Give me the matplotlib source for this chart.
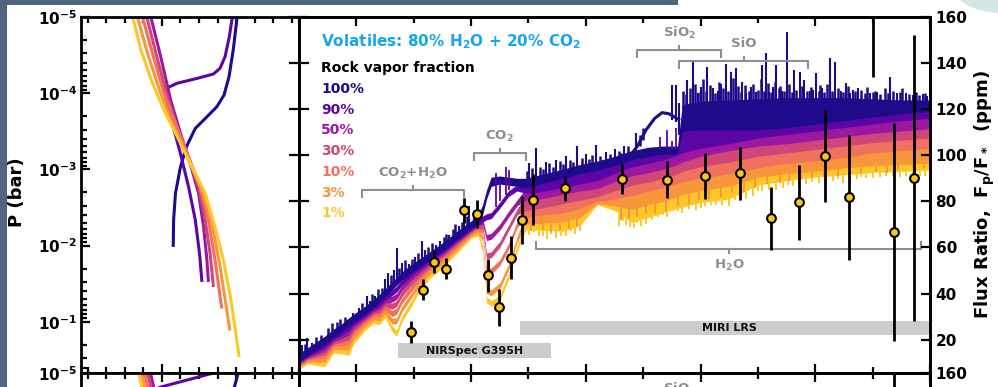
import numpy as np
import matplotlib
matplotlib.use("Agg")
import matplotlib.pyplot as plt
from matplotlib.patches import Rectangle, Ellipse
from matplotlib.ticker import (MultipleLocator, LogLocator, FixedLocator,
                               NullFormatter, FuncFormatter)

# ----------------------------------------------------------------------------
# Model labels and colours
# ----------------------------------------------------------------------------
fractions = ["100%", "90%", "50%", "30%", "10%", "3%", "1%"]
colors = ["#1d0b8c", "#5d04a7", "#9d18a0", "#cf4778", "#ef715e", "#f8963c", "#fdc827"]

# ----------------------------------------------------------------------------
# Emission spectra (ppm): lower / upper edge of each model's line forest
# ----------------------------------------------------------------------------
wl = [1.0, 1.15, 1.3, 1.45, 1.6, 1.75, 1.87, 1.95, 2.15, 2.3,
      2.4, 2.5, 2.62, 2.7, 2.8, 2.95, 3.1, 3.3, 3.5, 3.75,
      4.0, 4.12, 4.2, 4.27, 4.35, 4.5, 4.65, 4.8, 4.95, 5.2,
      5.6, 5.9, 6.2, 6.5, 6.8, 7.1, 7.35, 7.6, 7.68, 8.0,
      8.5, 9.0, 9.5, 10.0, 10.5, 11.0, 11.5, 12.0]

lo_100 = [10.5, 13.0, 15.5, 18.0, 21.0, 23.5, 26.0, 27.5, 31.0, 34.0,
          36.0, 38.5, 41.5, 43.5, 46.0, 49.0, 51.5, 55.0, 58.5, 63.5,
          68.0, 70.5, 74.0, 81.0, 86.5, 87.5, 87.0, 86.5, 86.0, 87.5,
          90.0, 92.0, 93.5, 95.5, 98.0, 99.5, 100.5, 100.5, 110.5, 111.0,
          111.0, 111.0, 112.0, 113.5, 115.0, 116.5, 118.0, 119.0]
hi_100 = [14.0, 16.5, 19.0, 21.5, 24.5, 27.0, 29.5, 31.0, 34.5, 37.5,
          39.5, 42.0, 45.0, 47.0, 49.5, 52.5, 55.0, 58.5, 62.0, 67.0,
          71.5, 74.0, 78.5, 85.0, 90.5, 91.0, 90.5, 90.0, 90.0, 91.5,
          94.0, 96.0, 97.5, 99.5, 102.0, 103.5, 104.0, 104.0, 122.0, 123.5,
          124.0, 124.5, 125.0, 125.0, 125.0, 124.5, 124.0, 124.0]

lo_90 = [10.0, 12.5, 14.5, 16.5, 20.0, 22.0, 24.0, 26.5, 30.0, 33.0,
         34.5, 37.2, 39.0, 40.5, 43.8, 47.4, 50.5, 54.0, 57.6, 62.7,
         67.5, 70.0, 71.0, 72.0, 72.5, 77.0, 82.0, 84.5, 83.5, 84.0,
         86.0, 87.5, 89.0, 92.0, 95.0, 96.5, 98.0, 100.0, 101.0, 103.0,
         105.0, 107.5, 109.0, 110.5, 112.0, 113.5, 115.0, 116.0]
hi_90 = [12.6, 15.1, 17.1, 19.1, 22.6, 24.6, 26.6, 29.1, 32.6, 35.6,
         37.1, 39.8, 41.6, 43.1, 46.4, 50.0, 53.1, 56.6, 60.2, 65.3,
         70.1, 72.6, 73.6, 74.6, 75.1, 79.6, 84.6, 87.1, 88.0, 89.5,
         92.0, 94.0, 95.5, 97.5, 100.0, 101.5, 102.5, 102.5, 112.5, 113.0,
         113.0, 113.0, 114.0, 115.5, 117.0, 118.5, 120.0, 121.0]

lo_50 = [9.5, 12.0, 13.5, 15.0, 19.0, 20.5, 22.0, 25.0, 29.0, 32.0,
         33.0, 35.9, 36.2, 37.4, 41.4, 45.5, 49.0, 53.0, 56.7, 61.9,
         67.0, 69.4, 70.0, 63.0, 63.5, 67.5, 73.0, 78.0, 80.5, 81.0,
         83.0, 84.5, 85.5, 88.5, 91.0, 92.5, 94.0, 96.0, 97.0, 99.5,
         102.0, 104.0, 105.0, 106.5, 108.0, 109.5, 110.5, 111.5]
hi_50 = [12.1, 14.6, 16.1, 17.6, 21.6, 23.1, 24.6, 27.6, 31.6, 34.6,
         35.6, 38.5, 38.8, 40.0, 44.0, 48.1, 51.6, 55.6, 59.3, 64.5,
         69.6, 72.0, 72.6, 65.6, 66.1, 70.1, 75.6, 80.6, 85.5, 86.0,
         88.0, 89.5, 91.0, 94.0, 97.0, 98.5, 100.0, 102.0, 103.0, 105.0,
         107.0, 109.5, 111.0, 112.5, 114.0, 115.5, 117.0, 118.0]

lo_30 = [9.0, 11.5, 12.5, 13.5, 18.0, 19.0, 20.0, 23.5, 28.0, 31.0,
         31.5, 34.5, 33.2, 34.3, 38.8, 43.2, 47.4, 51.9, 55.6, 61.0,
         66.4, 68.6, 68.0, 55.0, 55.5, 60.0, 67.0, 74.0, 76.0, 77.0,
         79.0, 80.5, 82.0, 84.5, 87.0, 88.5, 90.0, 92.0, 93.0, 95.0,
         97.0, 99.5, 101.0, 102.5, 104.0, 105.5, 106.5, 107.5]
hi_30 = [11.6, 14.1, 15.1, 16.1, 20.6, 21.6, 22.6, 26.1, 30.6, 33.6,
         34.1, 37.1, 35.8, 36.9, 41.4, 45.8, 50.0, 54.5, 58.2, 63.6,
         69.0, 71.2, 70.6, 57.6, 58.1, 62.6, 69.6, 76.6, 82.5, 83.0,
         85.0, 86.5, 87.5, 90.5, 93.0, 94.5, 96.0, 98.0, 99.0, 101.5,
         104.0, 106.0, 107.0, 108.5, 110.0, 111.5, 112.5, 113.5]

lo_10 = [8.5, 11.0, 11.5, 12.0, 17.0, 17.5, 18.0, 22.0, 27.0, 30.0,
         30.0, 33.0, 30.0, 31.0, 35.8, 40.6, 45.6, 50.6, 54.4, 60.0,
         65.7, 67.6, 66.0, 48.0, 48.5, 52.0, 59.0, 68.5, 73.0, 74.0,
         75.0, 77.0, 80.0, 81.0, 82.5, 84.5, 86.0, 88.0, 88.5, 90.0,
         92.0, 94.5, 96.5, 97.5, 99.0, 101.0, 102.0, 103.0]
hi_10 = [11.1, 13.6, 14.1, 14.6, 19.6, 20.1, 20.6, 24.6, 29.6, 32.6,
         32.6, 35.6, 32.6, 33.6, 38.4, 43.2, 48.2, 53.2, 57.0, 62.6,
         68.3, 70.2, 68.6, 50.6, 51.1, 54.6, 61.6, 71.1, 78.0, 79.0,
         81.0, 82.5, 84.0, 86.5, 89.0, 90.5, 92.0, 94.0, 95.0, 97.0,
         99.0, 101.5, 103.0, 104.5, 106.0, 107.5, 108.5, 109.5]

lo_3 = [7.8, 10.3, 10.2, 10.2, 15.6, 15.6, 15.6, 20.0, 25.5, 28.6,
        28.2, 31.2, 26.8, 26.8, 32.2, 37.5, 43.4, 49.0, 52.8, 58.8,
        64.9, 66.4, 62.5, 40.0, 39.0, 42.0, 50.0, 62.0, 70.0, 70.5,
        71.0, 73.0, 79.0, 78.0, 76.5, 78.5, 80.0, 82.0, 83.0, 84.5,
        86.5, 90.5, 92.0, 93.0, 94.5, 95.5, 96.0, 96.5]
hi_3 = [10.4, 12.9, 12.8, 12.8, 18.2, 18.2, 18.2, 22.6, 28.1, 31.2,
        30.8, 33.8, 29.4, 29.4, 34.8, 40.1, 46.0, 51.6, 55.4, 61.4,
        67.5, 69.0, 65.1, 42.6, 41.6, 44.6, 52.6, 64.6, 75.0, 76.0,
        77.0, 79.0, 82.0, 83.0, 84.5, 86.5, 88.0, 90.0, 90.5, 92.0,
        94.0, 96.5, 98.5, 99.5, 101.0, 103.0, 104.0, 105.0]

lo_1 = [7.0, 9.5, 8.8, 8.3, 14.2, 13.8, 13.2, 18.0, 24.0, 27.2,
        26.5, 29.5, 23.5, 21.5, 28.0, 34.0, 41.0, 47.0, 51.0, 57.5,
        64.0, 65.0, 58.0, 36.0, 34.5, 36.5, 46.0, 58.0, 67.5, 67.5,
        67.0, 69.5, 78.5, 76.0, 71.0, 73.0, 75.0, 77.0, 77.5, 79.5,
        81.0, 87.0, 89.0, 90.5, 91.5, 92.5, 93.0, 93.5]
hi_1 = [9.6, 12.1, 11.4, 10.9, 16.8, 16.4, 15.8, 20.6, 26.6, 29.8,
        29.1, 32.1, 26.1, 24.1, 30.6, 36.6, 43.6, 49.6, 53.6, 60.1,
        66.6, 67.6, 60.6, 38.6, 37.1, 39.1, 48.6, 60.6, 72.0, 72.5,
        73.0, 75.0, 81.0, 80.0, 78.5, 80.5, 82.0, 84.0, 85.0, 86.5,
        88.5, 92.0, 93.5, 94.5, 96.0, 97.5, 98.5, 99.5]

# second, brighter branch of the 100% model around 7 - 7.6 um
navy_branch_wl = [6.78, 6.9, 7.05, 7.2, 7.33, 7.45, 7.62]
navy_branch_ppm = [100.0, 104.0, 111.0, 116.0, 118.5, 118.0, 115.5]

# strongest individual emission lines of the 100% model
navy_spike_wl = [1.02, 1.06, 1.14, 1.22, 1.95, 2.05, 2.18, 2.24, 2.33, 2.5,
                 2.56, 2.65, 2.71, 2.8, 2.91, 3.02, 3.14, 3.2, 3.38, 3.45,
                 3.61, 3.79, 3.88, 3.97, 4.05,
                 5.01, 5.13, 5.3, 5.48, 5.65, 5.85, 6.0, 6.17, 6.35, 6.5, 6.67, 6.87,
                 7.51, 7.57, 7.63, 7.77, 7.86, 7.95, 8.0, 8.12, 8.21, 8.3,
                 8.35, 8.44, 8.53, 8.62, 8.73, 8.8, 8.88, 8.97, 9.08, 9.14,
                 9.2, 9.26, 9.32, 9.42, 9.51, 9.63, 9.73, 9.81, 9.9, 9.96,
                 10.02, 10.12, 10.25, 10.35, 10.45, 10.54, 10.6, 10.65, 10.74, 10.95,
                 11.08, 11.3, 11.42, 11.59, 11.7, 11.87, 11.95]
navy_spike_top = [20.1, 17.5, 20.8, 18.5, 31.6, 33.5, 38.9, 36.7, 39.0, 46.1,
                  49.0, 50.0, 59.8, 53.3, 52.6, 56.0, 62.6, 59.0, 61.2, 63.0,
                  65.5, 69.2, 72.0, 78.0, 76.0,
                  96.6, 103.1, 97.0, 98.0, 99.5, 103.8, 100.5, 104.5, 101.6, 102.5, 103.8, 109.6,
                  130.5, 130.5, 122.5, 132.6, 140.6, 127.0, 129.8, 138.4, 129.0, 128.0,
                  131.0, 139.8, 136.3, 137.7, 131.9, 127.0, 129.8, 127.5, 139.1, 144.2,
                  127.5, 129.8, 139.1, 128.0, 153.5, 137.0, 136.3, 132.7, 128.0, 128.3,
                  135.5, 129.0, 142.0, 140.6, 128.0, 131.2, 127.0, 128.5, 129.1, 127.0,
                  127.5, 134.1, 127.0, 126.9, 126.0, 126.5, 125.8]

# weaker lines forming the ragged top of the 100% model
navy_fringe_wl = [1.1, 1.3, 1.38, 1.5, 1.57, 1.66, 1.72, 1.8, 2.1, 2.28,
                  2.38, 2.44, 2.6, 2.75, 2.85, 2.97, 3.07, 3.25, 3.31, 3.52,
                  3.57, 3.68, 3.72, 3.84, 3.93, 4.1,
                  4.98, 5.06, 5.2, 5.25, 5.36, 5.42, 5.55, 5.6, 5.72, 5.78,
                  5.93, 6.05, 6.1, 6.24, 6.3, 6.42, 6.57, 6.62, 6.74, 6.94, 7.0,
                  7.7, 7.74, 7.81, 7.9, 7.99, 8.05, 8.09, 8.16, 8.25, 8.33,
                  8.39, 8.48, 8.57, 8.66, 8.7, 8.77, 8.84, 8.92, 9.01, 9.05,
                  9.11, 9.17, 9.23, 9.29, 9.36, 9.39, 9.46, 9.55, 9.59, 9.67,
                  9.77, 9.85, 9.93, 10.06, 10.09, 10.16, 10.2, 10.29, 10.4, 10.49,
                  10.57, 10.69, 10.79, 10.87, 10.91, 11.0, 11.04, 11.13, 11.22, 11.26,
                  11.36, 11.47, 11.52, 11.64, 11.75, 11.8, 11.91]
navy_fringe_top = [18.0, 21.0, 22.0, 25.0, 27.0, 27.5, 29.0, 30.0, 36.0, 40.0,
                   42.0, 42.5, 48.0, 51.0, 54.5, 55.0, 57.5, 60.0, 62.0, 64.5,
                   66.0, 68.0, 70.0, 71.0, 73.5, 75.5,
                   93.0, 94.5, 95.0, 94.0, 96.5, 95.0, 97.5, 96.0, 98.0, 97.0,
                   99.0, 98.5, 100.0, 99.5, 98.0, 100.5, 102.0, 101.0, 104.0, 109.0, 112.0,
                   128.0, 126.5, 129.0, 131.0, 127.5, 133.0, 128.0, 130.5, 127.0, 132.0,
                   129.0, 128.0, 133.5, 130.0, 127.5, 130.5, 128.0, 131.0, 128.5, 133.0,
                   128.0, 131.5, 127.5, 132.0, 129.0, 130.0, 128.0, 131.0, 127.5, 128.5,
                   130.0, 128.0, 129.5, 128.0, 130.5, 127.5, 131.0, 128.0, 129.0, 127.5,
                   130.0, 128.0, 128.5, 127.0, 129.5, 127.5, 128.0, 126.5, 129.0, 127.0,
                   128.0, 127.5, 129.0, 126.5, 127.5, 126.0, 127.0]

# isolated lines of the 90% model
purple_spike_wl = [4.43, 4.51, 4.6, 4.66, 7.3, 7.42, 7.5, 7.58]
purple_spike_top = [92.2, 89.3, 95.1, 93.7, 108.0, 111.0, 106.0, 112.0]

# deepest absorption lines of the 3% model
orange_dip_wl = [5.05, 5.25, 5.4, 5.55, 5.7, 5.85, 6.62, 6.75, 6.9, 7.05,
                 7.2, 7.4, 7.6, 7.8, 7.98, 8.15, 8.35, 8.55, 8.75, 8.95,
                 9.15, 9.38, 9.55, 9.75, 9.95, 10.15, 10.4, 10.6, 10.8, 11.05,
                 11.25, 11.45, 11.7, 11.9]
orange_dip_bottom = [67.0, 67.5, 66.5, 67.5, 68.0, 69.0, 72.0, 72.5, 73.0, 74.5,
                     75.0, 76.0, 78.0, 79.0, 80.5, 81.0, 82.0, 83.5, 84.0, 86.0,
                     87.5, 88.0, 89.0, 89.5, 90.0, 90.5, 91.0, 92.0, 92.5, 93.0,
                     92.5, 93.5, 94.0, 94.0]

# deepest absorption lines of the 1% model
yellow_dip_wl = [5.01, 5.18, 5.32, 5.48, 5.65, 5.82, 6.58, 6.7, 6.84, 6.96,
                 7.16, 7.34, 7.51, 7.68, 7.92, 8.07, 8.27, 8.5, 8.68, 8.91,
                 9.08, 9.32, 9.43, 9.61, 9.84, 10.07, 10.31, 10.48, 10.72, 10.89,
                 11.12, 11.35, 11.59, 11.82,
                 5.1, 5.25, 5.4, 5.57, 5.74, 5.9, 6.64, 6.77, 6.9, 7.05,
                 7.25, 7.42, 7.6, 7.8, 8.0, 8.18, 8.38, 8.6, 8.8, 9.0,
                 9.2, 9.52, 9.72, 9.95, 10.18, 10.4, 10.6, 10.8, 11.0, 11.24,
                 11.47, 11.7, 11.92]
yellow_dip_bottom = [65.5, 64.8, 63.5, 64.0, 64.8, 66.0, 69.2, 69.9, 68.4, 69.1,
                     72.0, 74.2, 75.6, 74.9, 76.4, 77.8, 78.5, 77.8, 80.0, 82.1,
                     84.5, 85.0, 86.0, 86.5, 87.5, 88.0, 89.0, 88.0, 89.5, 90.0,
                     90.5, 90.8, 91.0, 90.8,
                     66.5, 65.0, 66.0, 65.0, 67.0, 67.0, 71.5, 69.0, 70.5, 70.0,
                     73.0, 73.0, 76.0, 76.5, 77.0, 78.5, 78.5, 80.5, 81.0, 84.5,
                     85.0, 87.0, 87.0, 88.5, 88.0, 89.5, 89.0, 90.5, 90.0, 91.0,
                     90.5, 91.5, 91.0]

# ----------------------------------------------------------------------------
# Simulated observations
# ----------------------------------------------------------------------------
obs_wl = [2.96, 3.16, 3.36, 3.56, 3.87, 4.11, 4.29, 4.49, 4.69, 4.89, 5.08, 5.63,
          6.63, 7.41, 8.08, 8.69, 9.23, 9.71, 10.17, 10.59, 11.0, 11.37, 11.72]
obs_ppm = [23.2, 41.7, 53.7, 50.8, 76.1, 74.5, 47.9, 34.1, 55.6, 72.0, 80.7, 85.7,
           89.6, 89.3, 90.8, 92.2, 72.7, 79.5, 99.7, 81.7, 190.0, 66.6, 90.0]
obs_err = [4.7, 4.6, 4.7, 4.7, 5.4, 6.0, 7.1, 8.0, 9.2, 10.4, 11.0, 5.4,
           6.5, 8.0, 10.0, 11.5, 13.7, 16.2, 19.8, 27.0, 56.0, 47.3, 62.0]

lower_obs_wl = [11.37]
lower_obs_ppm = [130.0]
lower_obs_err = [45.0]

# ----------------------------------------------------------------------------
# Molecular band markers and instrument coverage
# ----------------------------------------------------------------------------
feat_names = ["CO$_2$+H$_2$O", "CO$_2$", "SiO$_2$", "SiO", "H$_2$O"]
feat_start = [2.09, 4.05, 6.90, 7.63, 5.14]
feat_end = [3.88, 4.95, 8.36, 9.87, 11.85]
feat_level = [85.0, 100.9, 145.6, 141.0, 59.4]
feat_above = [True, True, True, True, False]

inst_names = ["NIRSpec G395H", "MIRI LRS"]
inst_start = [2.73, 4.86]
inst_end = [5.39, 12.3]
inst_low = [12.0, 21.8]
inst_high = [18.4, 28.2]
inst_text_wl = [4.06, 8.5]

# ----------------------------------------------------------------------------
# Pressure-temperature profiles (T in K, P in bar)
# ----------------------------------------------------------------------------
pt_T_100 = [2061, 2063, 2073, 2100, 2132, 2180, 2243, 2296, 2335, 2362, 2385, 2406, 2412]
pt_P_100 = [1.04e-2, 4.6e-3, 2.07e-3, 9.3e-4, 5.06e-4, 2.9e-4, 2.04e-4, 1.51e-4,
            1.06e-4, 6.1e-5, 2.7e-5, 1.0e-5, 8e-6]
pt_T_90 = [2216, 2203, 2180, 2144, 2100, 2056, 2020, 2024, 2082, 2189, 2278, 2314,
           2341, 2364, 2380, 2384]
pt_P_90 = [3.0e-2, 1.27e-2, 4.6e-3, 1.7e-3, 6.2e-4, 2.5e-4, 1.11e-4, 8.6e-5, 7.4e-5,
           6.4e-5, 5.6e-5, 4.7e-5, 3.3e-5, 1.8e-5, 1.0e-5, 8e-6]
pt_T_50 = [1934, 1940, 1993, 2047, 2100, 2153, 2198, 2225, 2243, 2251]
pt_P_50 = [8e-6, 1.0e-5, 3.3e-5, 1.23e-4, 3.37e-4, 8.4e-4, 2.07e-3, 5.7e-3, 1.56e-2, 3.0e-2]
pt_T_30 = [1912, 1918, 1972, 2029, 2082, 2144, 2198, 2234, 2260, 2278]
pt_P_30 = [8e-6, 1.0e-5, 3.3e-5, 1.11e-4, 2.77e-4, 6.9e-4, 1.7e-3, 4.6e-3, 1.27e-2, 3.5e-2]
pt_T_10 = [1889, 1895, 1949, 2011, 2073, 2144, 2207, 2251, 2287, 2323]
pt_P_10 = [8e-6, 1.0e-5, 3.0e-5, 1.0e-4, 2.5e-4, 6.9e-4, 1.7e-3, 4.6e-3, 1.56e-2, 6.7e-2]
pt_T_3 = [1862, 1868, 1922, 1993, 2064, 2144, 2216, 2270, 2314, 2367]
pt_P_3 = [8e-6, 1.0e-5, 3.0e-5, 1.0e-4, 2.77e-4, 7.6e-4, 1.87e-3, 5.1e-3, 1.91e-2, 0.13]
pt_T_1 = [1836, 1842, 1886, 1949, 2011, 2082, 2163, 2234, 2287, 2332, 2373, 2417]
pt_P_1 = [8e-6, 1.0e-5, 2.7e-5, 7.4e-5, 1.67e-4, 3.7e-4, 9.3e-4, 2.07e-3, 5.7e-3,
          1.56e-2, 5.2e-2, 0.29]

# next scenario (profiles near the top of its panel)
lower_pt_T = [[2415, 2412, 2391, 2378], [2290, 2278, 1993, 1870],
              [1937, 1939, 1955, 1964], [1921, 1923, 1939, 1948],
              [1905, 1907, 1923, 1932], [1889, 1891, 1907, 1916],
              [1873, 1875, 1891, 1900]]
lower_pt_P = [[8e-6, 1e-5, 1.53e-5, 2.2e-5], [8e-6, 1e-5, 1.53e-5, 2.0e-5],
              [8e-6, 1e-5, 1.53e-5, 2.2e-5], [8e-6, 1e-5, 1.53e-5, 2.2e-5],
              [8e-6, 1e-5, 1.53e-5, 2.2e-5], [8e-6, 1e-5, 1.53e-5, 2.2e-5],
              [8e-6, 1e-5, 1.53e-5, 2.2e-5]]

# ----------------------------------------------------------------------------
# Figure
# ----------------------------------------------------------------------------
plt.rcParams.update({
    "font.family": ["DejaVu Sans"],
    "font.weight": "bold",
    "mathtext.default": "bf",
    "axes.linewidth": 2.0,
    "xtick.major.width": 1.6, "ytick.major.width": 1.6,
    "xtick.minor.width": 1.6, "ytick.minor.width": 1.6,
})

W, H = 998, 387
fig = plt.figure(figsize=(W / 100, H / 100), dpi=100)


def box(x0, y0, x1, y1):
    return [x0 / W, 1 - y1 / H, (x1 - x0) / W, (y1 - y0) / H]


frame = "#51657f"
fig.add_artist(Rectangle((0, 0), 7 / W, 1, transform=fig.transFigure,
                         facecolor=frame, edgecolor="none"))
fig.add_artist(Rectangle((0, 1 - 5 / H), 678 / W, 5 / H, transform=fig.transFigure,
                         facecolor=frame, edgecolor="none"))
fig.add_artist(Ellipse((1012 / W, 1 + 8 / H), 112 / W, 44 / H, transform=fig.transFigure,
                       facecolor="#d3e8e5", edgecolor="none"))

T_LIM = (1563, 2740)
P_LIM = (0.47, 1e-5)
WL_LIM = (1.0, 12.0)
F_LIM = (5.5, 160.0)
GRAY = "#8e8e8e"


def pow_label(v, pos):
    return r"$\mathbf{10^{%d}}$" % int(round(np.log10(v)))


def setup_pt(ax):
    ax.set_yscale("log")
    ax.set_xlim(*T_LIM)
    ax.set_ylim(*P_LIM)
    ax.xaxis.set_major_locator(MultipleLocator(1000))
    ax.xaxis.set_minor_locator(MultipleLocator(100))
    ax.yaxis.set_major_locator(FixedLocator([1e-5, 1e-4, 1e-3, 1e-2, 1e-1]))
    ax.yaxis.set_minor_locator(LogLocator(base=10, subs=np.arange(2, 10)))
    ax.yaxis.set_major_formatter(FuncFormatter(pow_label))
    ax.yaxis.set_minor_formatter(NullFormatter())
    ax.tick_params(which="both", direction="in", top=True, bottom=True,
                   left=True, right=False, labelbottom=False)
    ax.tick_params(which="major", length=6.5)
    ax.tick_params(which="minor", length=4.5)
    ax.tick_params(axis="y", labelsize=11, pad=3)


def setup_spec(ax):
    ax.set_xlim(*WL_LIM)
    ax.set_ylim(*F_LIM)
    ax.xaxis.set_major_locator(MultipleLocator(2))
    ax.xaxis.set_minor_locator(MultipleLocator(1))
    ax.yaxis.set_major_locator(MultipleLocator(20))
    ax.tick_params(axis="x", which="both", direction="in", top=True, bottom=True,
                   labelbottom=False)
    ax.tick_params(axis="x", which="major", length=6.5)
    ax.tick_params(axis="x", which="minor", length=4.5)
    ax.tick_params(axis="y", which="major", direction="inout", length=14,
                   left=True, right=False, labelleft=False)
    axr = ax.twinx()
    axr.set_ylim(*F_LIM)
    axr.yaxis.set_major_locator(MultipleLocator(20))
    axr.tick_params(axis="y", direction="in", length=6.5, labelsize=11, pad=4)
    return axr


def draw_brackets(ax, names, starts, ends, levels, above):
    for name, x0, x1, y, up in zip(names, starts, ends, levels, above):
        s = 1 if up else -1
        xc = 0.5 * (x0 + x1)
        ax.plot([x0, x0, x1, x1], [y - s * 3.4, y, y, y - s * 3.4],
                color=GRAY, lw=1.5, solid_capstyle="butt", zorder=3)
        ax.plot([xc, xc], [y, y + s * 1.8], color=GRAY, lw=1.5, zorder=3)
        ax.text(xc, y + s * 7.3, name, color=GRAY, fontsize=9.5, fontweight="bold",
                ha="center", va="center", zorder=3)


# ---------------- top row ----------------
ax_pt = fig.add_axes(box(81, 17, 299, 373))
ax_sp = fig.add_axes(box(299, 17, 930, 373))
setup_pt(ax_pt)
ax_spr = setup_spec(ax_sp)

pt_T = [pt_T_100, pt_T_90, pt_T_50, pt_T_30, pt_T_10, pt_T_3, pt_T_1]
pt_P = [pt_P_100, pt_P_90, pt_P_50, pt_P_30, pt_P_10, pt_P_3, pt_P_1]
for T, P, c in zip(pt_T, pt_P, colors):
    ax_pt.plot(T, P, color=c, lw=2.2, solid_capstyle="butt")

spec_lo = [lo_100, lo_90, lo_50, lo_30, lo_10, lo_3, lo_1]
spec_hi = [hi_100, hi_90, hi_50, hi_30, hi_10, hi_3, hi_1]
wl_arr = np.array(wl)

# 1% model first so that the higher rock fractions sit on top
ax_sp.vlines(yellow_dip_wl, np.interp(yellow_dip_wl, wl_arr, lo_1), yellow_dip_bottom,
             color=colors[6], lw=1.4, zorder=1.9)
for k in range(len(colors) - 1, -1, -1):
    ax_sp.fill_between(wl_arr, spec_lo[k], spec_hi[k], color=colors[k], lw=0, zorder=2)
    if k == 5:
        ax_sp.vlines(orange_dip_wl, np.interp(orange_dip_wl, wl_arr, lo_3),
                     orange_dip_bottom, color=colors[5], lw=1.4, zorder=2)
ax_sp.vlines(purple_spike_wl, np.interp(purple_spike_wl, wl_arr, hi_90), purple_spike_top,
             color=colors[1], lw=1.3, zorder=2.05)


def navy_base(x):
    x = np.asarray(x)
    base = np.interp(x, wl_arr, hi_100)
    on_branch = (x >= navy_branch_wl[0]) & (x <= navy_branch_wl[-1])
    return np.where(on_branch, np.interp(x, navy_branch_wl, navy_branch_ppm), base)


ax_sp.vlines(navy_fringe_wl, navy_base(navy_fringe_wl) - 2, navy_fringe_top,
             color=colors[0], lw=1.8, zorder=2.1)
ax_sp.vlines(navy_spike_wl, navy_base(navy_spike_wl) - 2, navy_spike_top,
             color=colors[0], lw=1.5, zorder=2.1)
ax_sp.plot(navy_branch_wl, navy_branch_ppm, color=colors[0], lw=2.2, zorder=2.1)

draw_brackets(ax_sp, feat_names, feat_start, feat_end, feat_level, feat_above)

for name, x0, x1, y0, y1, xt in zip(inst_names, inst_start, inst_end, inst_low,
                                    inst_high, inst_text_wl):
    ax_sp.add_patch(Rectangle((x0, y0), x1 - x0, y1 - y0, facecolor="#cccccc",
                              edgecolor="none", zorder=1.5))
    ax_sp.text(xt, 0.5 * (y0 + y1), name, fontsize=8, fontweight="bold",
               ha="center", va="center", color="#111111", zorder=1.6)

ax_sp.errorbar(obs_wl, obs_ppm, yerr=obs_err, fmt="o", ms=6.3, mfc="#fcc80f",
               mec="black", mew=1.5, ecolor="black", elinewidth=2.0, capsize=0,
               zorder=5)

ax_sp.text(0.035, 0.930, "Volatiles: 80% H$_2$O + 20% CO$_2$", transform=ax_sp.transAxes,
           color="#17a5ee", fontsize=11, fontweight="bold", va="center", zorder=6)
ax_sp.text(0.035, 0.856, "Rock vapor fraction", transform=ax_sp.transAxes,
           color="black", fontsize=10, fontweight="bold", va="center", zorder=6)
for k, (lab, c) in enumerate(zip(fractions, colors)):
    ax_sp.text(0.035, 0.798 - k * 0.0582, lab, transform=ax_sp.transAxes, color=c,
               fontsize=10, fontweight="bold", va="center", zorder=6)

fig.text(17 / W, 1 - 192 / H, "P (bar)", rotation=90, fontsize=13,
         fontweight="bold", ha="center", va="center")
fig.text(985 / W, 1 - 194 / H, "Flux Ratio,  F$_p$/F$_*$  (ppm)", rotation=90,
         fontsize=13, fontweight="bold", ha="center", va="center")

# ---------------- next row (only its top edge is in frame) ----------------
ax_pt2 = fig.add_axes(box(81, 373, 299, 729))
ax_sp2 = fig.add_axes(box(299, 373, 930, 729))
setup_pt(ax_pt2)
setup_spec(ax_sp2)
for T, P, c in zip(lower_pt_T, lower_pt_P, colors):
    ax_pt2.plot(T, P, color=c, lw=2.2, solid_capstyle="butt")
draw_brackets(ax_sp2, feat_names, feat_start, feat_end, feat_level, feat_above)
ax_sp2.errorbar(lower_obs_wl, lower_obs_ppm, yerr=lower_obs_err, fmt="o", ms=6.3,
                mfc="#fcc80f", mec="black", mew=1.5, ecolor="black", elinewidth=2.0,
                capsize=0, zorder=5)

fig.savefig("out.png", dpi=100)
